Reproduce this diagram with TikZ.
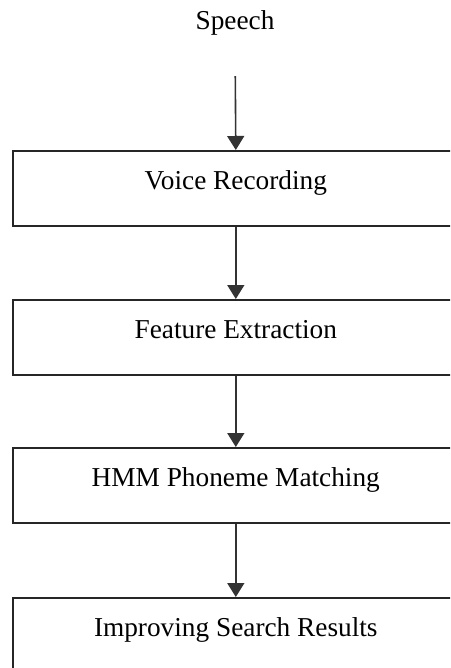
\documentclass[tikz,border=0pt]{standalone}
\usepackage{fontspec}
\setmainfont{Liberation Serif}
\usetikzlibrary{arrows.meta}
\tikzset{
  stagebox/.style={draw=black!85, line width=1.6pt, rectangle, anchor=north west,
    minimum width=446pt, inner xsep=0pt, inner ysep=0pt,
    text height=39pt, text depth=36pt,
    font=\fontsize{27.3}{32}\selectfont},
  flow/.style={draw=black!80, line width=1.6pt, -{Triangle[width=17pt,length=14pt]}},
}
\begin{document}
\begin{tikzpicture}[x=1pt,y=-1pt]
\useasboundingbox (0,0) rectangle (450,668);
\clip (0,0) rectangle (450,668);

\node[font=\fontsize{27.3}{32}\selectfont, inner sep=0pt, anchor=base] (speech) at (235,30) {Speech};

\node[stagebox] (rec)  at (12,150) {Voice Recording};
\node[stagebox] (feat) at (12,299) {Feature Extraction};
\node[stagebox] (hmm)  at (12,447) {HMM Phoneme Matching};
\node[stagebox] (srch) at (12,597) {Improving Search Results};

\draw[flow, shorten <=40pt] (speech.south) -- (rec.north);
\draw[flow] (rec.south) -- (feat.north);
\draw[flow] (feat.south) -- (hmm.north);
\draw[flow] (hmm.south) -- (srch.north);
\end{tikzpicture}
\end{document}
